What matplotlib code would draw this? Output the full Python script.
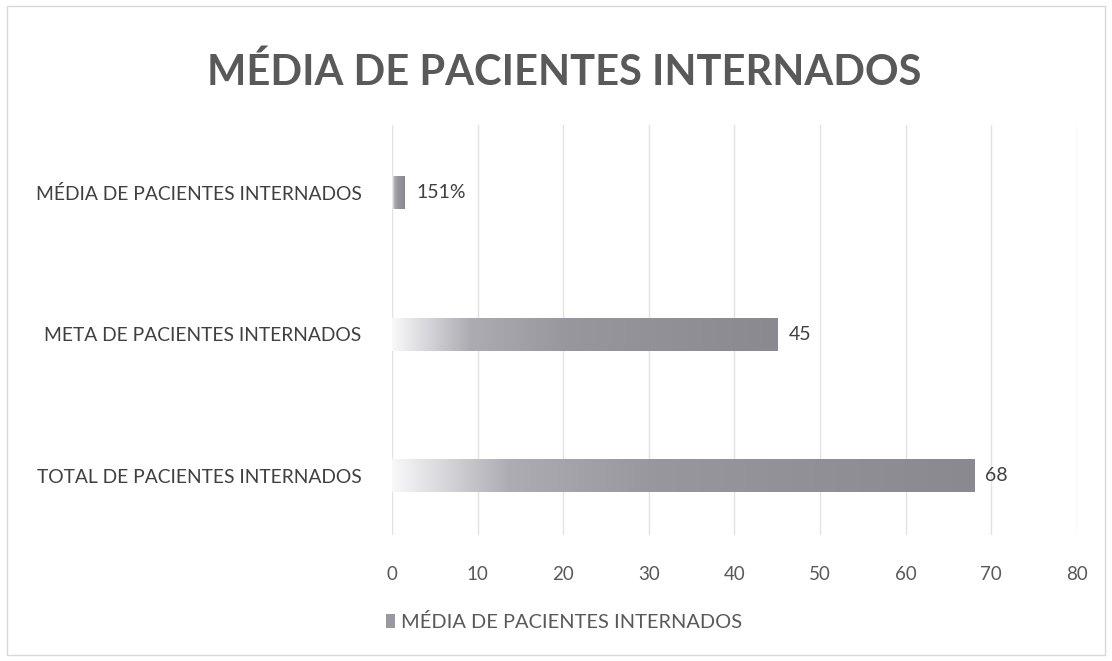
import matplotlib
matplotlib.use("Agg")
import matplotlib.pyplot as plt
import numpy as np
from matplotlib.patches import Rectangle
from matplotlib.colors import LinearSegmentedColormap

categories = ["TOTAL DE PACIENTES INTERNADOS", "META DE PACIENTES INTERNADOS", "MÉDIA DE PACIENTES INTERNADOS"]
values = [68, 45, 1.51]
value_labels = ["68", "45", "151%"]
xticks = [0, 10, 20, 30, 40, 50, 60, 70, 80]
title = "MÉDIA DE PACIENTES INTERNADOS"
legend_label = "MÉDIA DE PACIENTES INTERNADOS"

plt.rcParams['font.family'] = ['Lato', 'DejaVu Sans']

fig = plt.figure(figsize=(11.12, 6.61), dpi=100)
ax = fig.add_axes([0.3525, 0.1906, 0.616, 0.6206])

cmap = LinearSegmentedColormap.from_list(
    "g", [(0.0, "#f8f8fa"), (0.2, "#adacb2"), (0.45, "#98979d"), (1.0, "#8a898f")])
grad = np.linspace(0, 1, 256).reshape(1, -1)

bar_h = 0.235
ypos = np.arange(len(categories))
bars = ax.barh(ypos, values, height=bar_h, color="none", edgecolor="none", zorder=2)
for rect, v in zip(bars, values):
    x0, y0 = rect.get_x(), rect.get_y()
    w, h = rect.get_width(), rect.get_height()
    im = ax.imshow(grad, cmap=cmap, aspect="auto", extent=(x0, x0 + w, y0, y0 + h),
                   zorder=2, interpolation="bilinear")
    im.set_clip_path(rect)

for y, v, lab in zip(ypos, values, value_labels):
    ax.text(v + 1.3, y, lab, va="center", ha="left", fontsize=14, color="#404040")

ax.set_xlim(0, 80)
ax.set_ylim(-0.42, 2.48)
ax.set_xticks(xticks)
ax.set_xticklabels([str(t) for t in xticks], fontsize=13.5, color="#595959")
ax.set_yticks(ypos)
ax.set_yticklabels(categories, fontsize=13.9, color="#404040")
ax.tick_params(axis="both", length=0)
ax.tick_params(axis="y", pad=22)
ax.tick_params(axis="x", pad=22)
ax.grid(axis="x", color="#e2e2e2", linewidth=1)
ax.set_axisbelow(True)
for s in ax.spines.values():
    s.set_visible(False)

fig.text(0.507, 0.891, title, ha="center", va="center", fontsize=30,
         fontweight="bold", color="#595959")

handle = Rectangle((0, 0), 1, 1, facecolor="#9a999f", edgecolor="none")
leg = fig.legend([handle], [legend_label], loc="center", bbox_to_anchor=(0.507, 0.059),
                 frameon=False, fontsize=14.4, handlelength=0.45, handleheight=0.7,
                 handletextpad=0.3)
for t in leg.get_texts():
    t.set_color("#595959")

fig.patches.append(Rectangle((0.006, 0.009), 0.988, 0.982, transform=fig.transFigure,
                             fill=False, edgecolor="#d8d8d8", linewidth=1))

fig.savefig("out.png", dpi=100)
